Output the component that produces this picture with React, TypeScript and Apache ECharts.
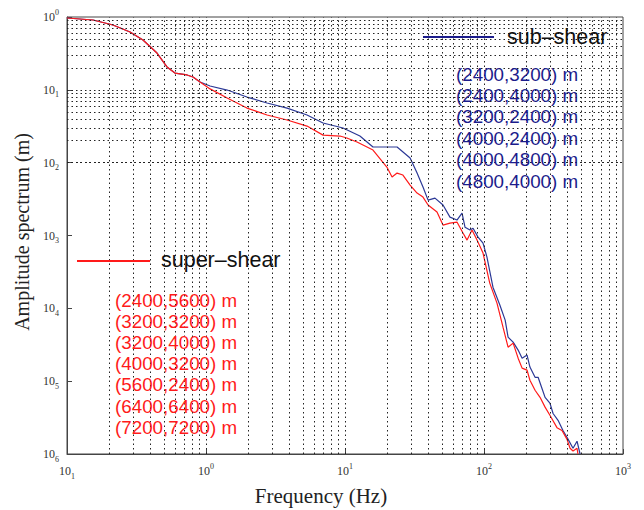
import React, { useEffect, useRef } from "react";
import * as echarts from "echarts";

// Sub-shear (blue) curve
const subFreq = [0.1, 0.154, 0.214, 0.284, 0.352, 0.444, 0.524, 0.598, 0.73, 0.806, 0.906,
  1.07, 1.42, 1.97, 2.75, 3.83, 5.33, 6.95, 9.68, 12.8, 15.9, 23.7, 29.4, 33.0, 36.4, 39.6,
  44.4, 50.7, 56.9, 63.9, 69.5, 73.0, 79.3, 83.4, 90.6, 98.4, 105, 116, 130, 142, 149, 162,
  176, 188, 204, 214, 233, 245, 261, 275, 298, 314, 341, 370, 402, 437, 467, 491];
const subAmp = [0.969, 0.91, 0.776, 0.622, 0.483, 0.32, 0.206, 0.17, 0.16, 0.15, 0.128,
  0.113, 0.0993, 0.0796, 0.0659, 0.0562, 0.0451, 0.035, 0.0299, 0.0232, 0.0164, 0.0164, 0.0116, 0.0072, 0.00462, 0.00306,
  0.00326, 0.00262, 0.00179, 0.00163, 0.00203, 0.0013, 0.00119, 0.00126, 0.000951, 0.000787, 0.000505, 0.000195, 0.000111, 0.0000689, 0.0000402, 0.0000343,
  0.0000267, 0.0000207, 0.0000228, 0.0000156, 0.0000113, 0.0000113, 0.000008, 0.000006, 0.000005, 0.0000036, 0.0000029, 0.0000021, 0.0000016, 0.0000012, 0.0000015, 0.000001];

// Super-shear (red) curve
const superFreq = [0.1, 0.154, 0.214, 0.284, 0.352, 0.444, 0.524, 0.598, 0.73, 0.806, 0.906,
  1.07, 1.42, 1.97, 2.75, 3.83, 5.33, 6.95, 9.21, 10.3, 12.2, 15.9, 20.0, 21.8, 23.7, 26.1,
  29.4, 33.0, 36.4, 39.6, 45.9, 50.7, 56.9, 63.9, 70.6, 75.5, 82.0, 89.1, 98.4, 110, 124, 137,
  149, 162, 176, 188, 204, 214, 233, 253, 275, 298, 335, 364, 395, 416, 437, 467, 474];
const superAmp = [0.969, 0.91, 0.776, 0.622, 0.483, 0.32, 0.206, 0.17, 0.16, 0.15, 0.128,
  0.103, 0.0771, 0.0562, 0.0451, 0.0385, 0.0318, 0.0239, 0.0232, 0.0218, 0.0192, 0.0149, 0.00871, 0.00634, 0.0072, 0.00676,
  0.00492, 0.00382, 0.00337, 0.00262, 0.0021, 0.00139, 0.00148, 0.00153, 0.00108, 0.000865, 0.00119, 0.000865, 0.000573, 0.000222, 0.000118, 0.0000552,
  0.0000293, 0.0000333, 0.0000207, 0.0000151, 0.0000142, 0.0000103, 0.0000075, 0.000006, 0.0000044, 0.0000034, 0.0000023, 0.0000021, 0.0000016, 0.0000012, 0.0000011, 0.0000012, 0.000001];

const subCases = ["(2400,3200) m", "(2400,4000) m", "(3200,2400) m", "(4000,2400) m", "(4000,4800) m", "(4800,4000) m"];
const superCases = ["(2400,5600) m", "(3200,3200) m", "(3200,4000) m", "(4000,3200) m", "(5600,2400) m", "(6400,6400) m", "(7200,7200) m"];

const xDecades = [-1, 0, 1, 2];
const yDecades = [-6, -5, -4, -3, -2, -1];
const mantissas = [1, 2, 3, 4, 5, 6, 7, 8, 9];

const BLUE_LINE = "#2b3896";
const BLUE_TEXT = "#1c1c8c";
const RED = "#ff1a1a";
const SERIF = "'Liberation Serif', 'DejaVu Serif', serif";
const SANS = "'Liberation Sans', Arial, sans-serif";

export default function App() {
  const ref = useRef<HTMLDivElement>(null);
  useEffect(() => {
    if (!ref.current) return;
    const chart = echarts.init(ref.current, null, { renderer: "svg" });

    const xGrid: any[] = [];
    xDecades.forEach((d) => mantissas.forEach((m) => {
      const v = m * Math.pow(10, d);
      if (v > 0.1 && v < 1000) xGrid.push({ xAxis: v });
    }));
    const yGrid: any[] = [];
    yDecades.forEach((d) => mantissas.forEach((m) => {
      const v = m * Math.pow(10, d);
      if (v > 1e-6 && v < 1) yGrid.push({ yAxis: v });
    }));

    const rich = {
      b: { fontFamily: SERIF, fontSize: 12, color: "#333", lineHeight: 18, verticalAlign: "middle" },
      sup: { fontFamily: SERIF, fontSize: 8, color: "#333", lineHeight: 18, verticalAlign: "top" },
      sub: { fontFamily: SERIF, fontSize: 8, color: "#333", lineHeight: 18, verticalAlign: "bottom" },
    };

    const legendGraphics: any[] = [
      { type: "line", shape: { x1: 423, y1: 37, x2: 494, y2: 37 }, style: { stroke: BLUE_TEXT, lineWidth: 2 }, z: 10 },
      { type: "text", x: 507, y: 37, style: { text: "sub–shear", fill: "#111", font: `21.5px ${SANS}`, textVerticalAlign: "middle" }, z: 10 },
      { type: "line", shape: { x1: 77, y1: 261, x2: 150, y2: 261 }, style: { stroke: RED, lineWidth: 2 }, z: 10 },
      { type: "text", x: 161, y: 260, style: { text: "super–shear", fill: "#111", font: `21.5px ${SANS}`, textVerticalAlign: "middle" }, z: 10 },
      { type: "text", x: 22, y: 232, rotation: Math.PI / 2, style: { text: "Amplitude spectrum (m)", fill: "#222", font: `20px ${SERIF}`, textAlign: "center", textVerticalAlign: "middle" }, z: 10 },
      { type: "text", x: 321, y: 496, style: { text: "Frequency (Hz)", fill: "#222", font: `21px ${SERIF}`, textAlign: "center", textVerticalAlign: "middle" }, z: 10 },
    ];
    subCases.forEach((t, i) => legendGraphics.push({
      type: "text", x: 456, y: 74 + i * 21.4,
      style: { text: t, fill: BLUE_TEXT, font: `18.8px ${SANS}`, textVerticalAlign: "middle" }, z: 10,
    }));
    superCases.forEach((t, i) => legendGraphics.push({
      type: "text", x: 115, y: 300 + i * 21.2,
      style: { text: t, fill: RED, font: `18.8px ${SANS}`, textVerticalAlign: "middle" }, z: 10,
    }));

    chart.setOption({
      animation: false,
      backgroundColor: "#fff",
      grid: { left: 67, right: 21, top: 17, bottom: 56, show: true, borderColor: "#444", borderWidth: 1, backgroundColor: "transparent" },
      xAxis: {
        type: "log", logBase: 10, min: 0.1, max: 1000,
        axisLine: { show: true, lineStyle: { color: "#444" } },
        axisTick: { show: true, inside: true, length: 5, lineStyle: { color: "#444" } },
        splitLine: { show: false },
        axisLabel: {
          margin: 8,
          formatter: (v: number) => {
            const e = Math.round(Math.log10(v));
            return e < 0 ? `{b|10}{sub|${-e}}` : `{b|10}{sup|${e}}`;
          },
          rich,
        },
      },
      yAxis: {
        type: "log", logBase: 10, min: 1e-6, max: 1,
        axisLine: { show: true, lineStyle: { color: "#444" } },
        axisTick: { show: true, inside: true, length: 5, lineStyle: { color: "#444" } },
        splitLine: { show: false },
        axisLabel: {
          margin: 8,
          formatter: (v: number) => {
            const e = Math.round(Math.log10(v));
            return e === 0 ? `{b|10}{sup|0}` : `{b|10}{sub|${-e}}`;
          },
          rich,
        },
      },
      series: [
        {
          type: "line", data: [[1, 0.01]], showSymbol: false, symbol: "none",
          lineStyle: { opacity: 0 }, silent: true, z: 1,
          markLine: {
            silent: true, symbol: ["none", "none"], label: { show: false },
            lineStyle: { color: "#222", type: [1.5, 3], width: 1 },
            emphasis: { disabled: true },
            data: [...xGrid, ...yGrid],
          },
        },
        {
          type: "line", name: "sub-shear", showSymbol: false, symbol: "none", z: 3,
          lineStyle: { color: BLUE_LINE, width: 1.2 },
          data: subFreq.map((f, i) => [f, subAmp[i]]),
        },
        {
          type: "line", name: "super-shear", showSymbol: false, symbol: "none", z: 4,
          lineStyle: { color: RED, width: 1.2 },
          data: superFreq.map((f, i) => [f, superAmp[i]]),
        },
      ],
      graphic: legendGraphics,
    });
    return () => chart.dispose();
  }, []);
  return <div ref={ref} style={{ width: 644, height: 510, position: "absolute", left: 0, top: 0 }} />;
}
